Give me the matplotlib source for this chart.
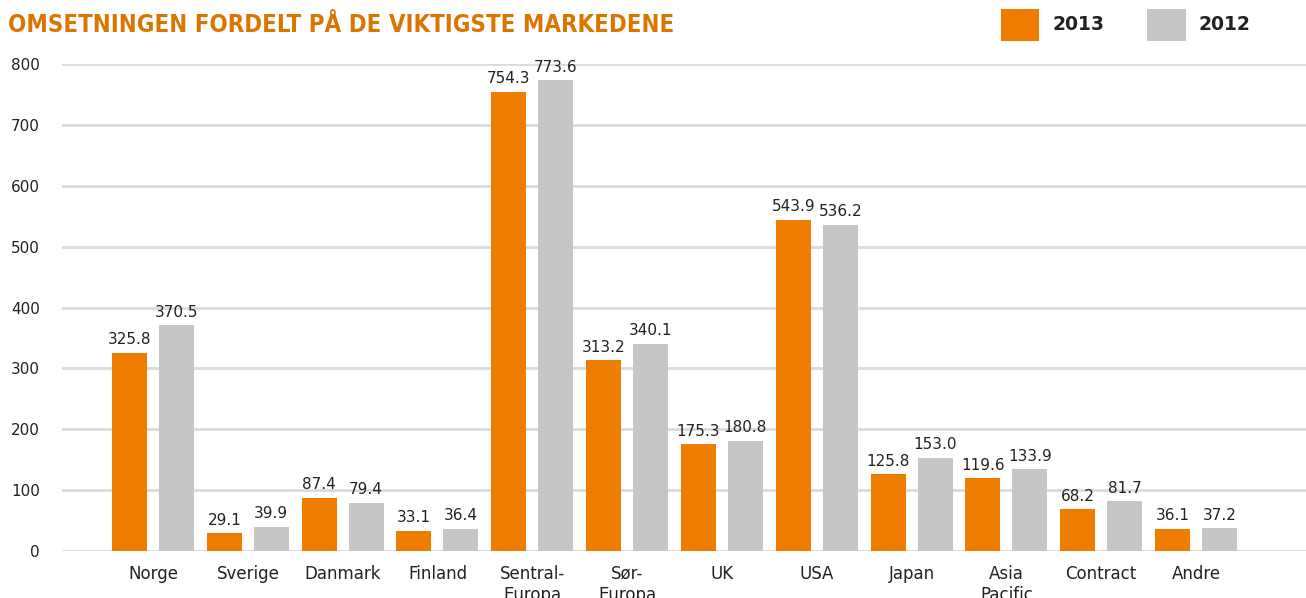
import matplotlib
matplotlib.use('Agg')
import matplotlib.pyplot as plt
import numpy as np

# Chart data
MARKETS = ['Norge', 'Sverige', 'Danmark', 'Finland', 'Sentral-\nEuropa', 'Sør-\nEuropa',
           'UK', 'USA', 'Japan', 'Asia\nPacific', 'Contract', 'Andre']
SALES_2013 = [325.8, 29.1, 87.4, 33.1, 754.3, 313.2, 175.3, 543.9, 125.8, 119.6, 68.2, 36.1]
SALES_2012 = [370.5, 39.9, 79.4, 36.4, 773.6, 340.1, 180.8, 536.2, 153.0, 133.9, 81.7, 37.2]
YEARS = ['2013', '2012']

ORANGE = '#EF7D00'
GREY = '#C6C6C6'
TITLE_COLOR = '#DA7600'
GRID = '#DADADA'
TEXT = '#222222'

plt.rcParams['font.family'] = ['DejaVu Sans']

fig = plt.figure(figsize=(13.06, 5.98), dpi=100)
W, H = 1306.0, 598.0
ax = fig.add_axes([62 / W, (H - 551) / H, 1 - 62 / W, (551 - 64) / H])

x = np.arange(len(MARKETS))
width = 0.369
off = 0.248
b1 = ax.bar(x - off, SALES_2013, width, color=ORANGE, label=YEARS[0], zorder=3)
b2 = ax.bar(x + off, SALES_2012, width, color=GREY, label=YEARS[1], zorder=3)

# value labels above each bar
for bars, vals in ((b1, SALES_2013), (b2, SALES_2012)):
    for b, v in zip(bars, vals):
        ax.annotate('%.1f' % v, (b.get_x() + b.get_width() / 2, v),
                    xytext=(0, 4), textcoords='offset points',
                    ha='center', va='bottom', fontsize=11, color=TEXT,
                    annotation_clip=False)

ax.set_xlim(-0.96, 12.16)
ax.set_ylim(0, 800)
ax.set_yticks(np.arange(0, 801, 100))
ax.set_xticks(x)
ax.set_xticklabels(MARKETS, fontsize=12, color=TEXT, linespacing=1.2)
ax.tick_params(axis='x', length=0, pad=10)
ax.tick_params(axis='y', length=0, pad=16, labelsize=11, labelcolor=TEXT)
ax.grid(axis='y', color=GRID, linewidth=2, zorder=0)
for s in ax.spines.values():
    s.set_visible(False)

fig.text(8 / W, 1 - 25 / H, 'OMSETNINGEN FORDELT PÅ DE VIKTIGSTE MARKEDENE',
         fontsize=17.2, fontweight='bold', fontstretch='condensed', color=TITLE_COLOR,
         ha='left', va='center')

leg = fig.legend(handles=[b1, b2], labels=YEARS, loc='upper left',
                 bbox_to_anchor=(993 / W, 1 - 1 / H), ncol=2, frameon=False,
                 handlelength=2.05, handleheight=2.25, handletextpad=0.7,
                 columnspacing=2.3, borderaxespad=0, prop={'size': 13.5, 'weight': 'bold'})
for t in leg.get_texts():
    t.set_color(TEXT)

fig.savefig('out.png', dpi=100)
